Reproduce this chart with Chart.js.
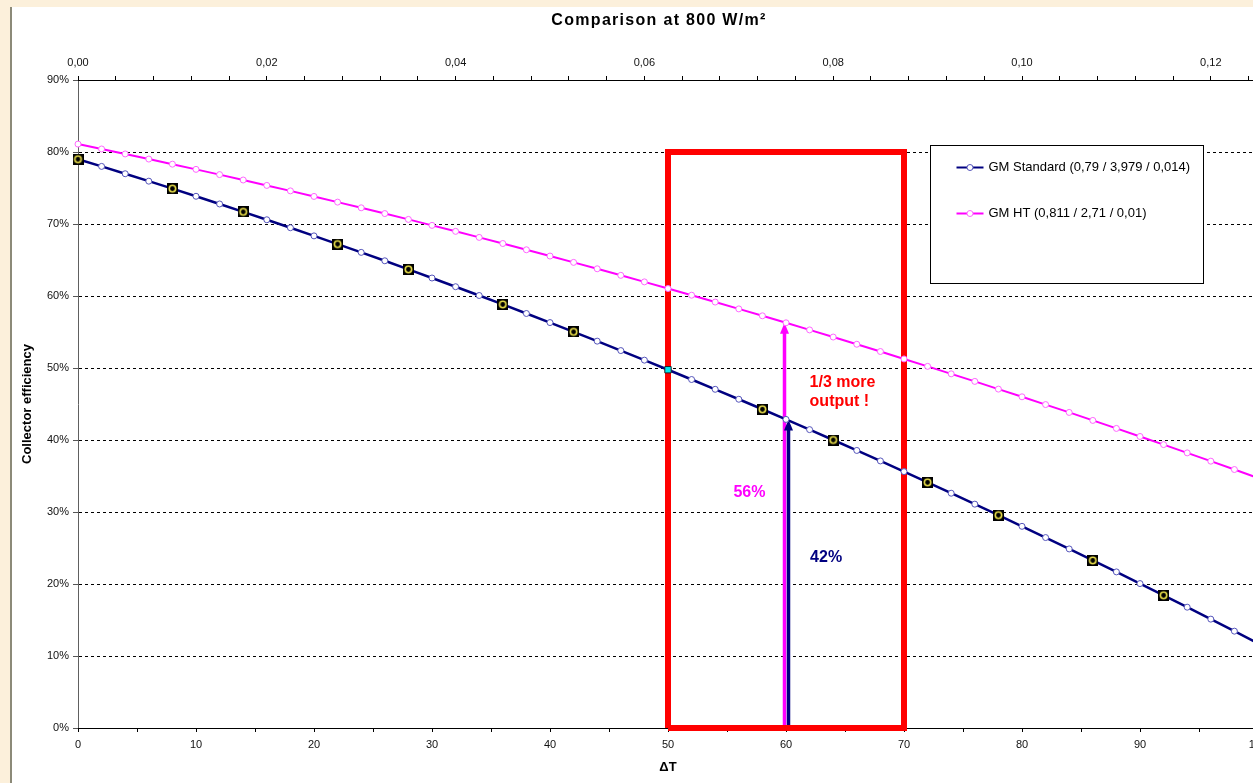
<!DOCTYPE html>
<html lang="en">
<head>
  <meta charset="UTF-8">
  <title>Comparison at 800 W/m²</title>
  <style>
    body {
      margin: 0;
      padding: 0;
      background-color: #fcf0db;
      overflow: hidden;
      width: 1253px;
      height: 783px;
      position: relative;
    }
    .sheet {
      position: absolute;
      left: 10px;
      top: 7px;
      width: 1300px;
      height: 800px;
      background-color: #fff;
      border-left: 2px solid #8c8a78;
    }
    #myChart {
      position: absolute;
      left: 0;
      top: 0;
    }
  </style>
</head>
<body>
  <div class="sheet"></div>
  <canvas id="myChart" width="1310" height="783"></canvas>
  <script src="https://cdn.jsdelivr.net/npm/chart.js"></script>
  <script>
    // values, efficiency in %
    var deltaT = [0, 2, 4, 6, 8, 10, 12, 14, 16, 18, 20, 22, 24, 26, 28, 30, 32, 34, 36, 38, 40,
      42, 44, 46, 48, 50, 52, 54, 56, 58, 60, 62, 64, 66, 68, 70, 72, 74, 76, 78, 80,
      82, 84, 86, 88, 90, 92, 94, 96, 98, 100];
    var gmStandard = [79.00, 78.00, 76.98, 75.95, 74.91, 73.85, 72.78, 71.69, 70.59, 69.48, 68.35,
      67.21, 66.06, 64.89, 63.70, 62.50, 61.29, 60.07, 58.83, 57.57, 56.31,
      55.02, 53.73, 52.42, 51.09, 49.76, 48.40, 47.04, 45.66, 44.27, 42.86,
      41.44, 40.00, 38.55, 37.09, 35.61, 34.12, 32.61, 31.09, 29.56, 28.01,
      26.45, 24.87, 23.28, 21.68, 20.06, 18.43, 16.78, 15.12, 13.45, 11.76];
    var gmHT = [81.10, 80.42, 79.73, 79.02, 78.31, 77.59, 76.86, 76.11, 75.36, 74.60, 73.83,
      73.04, 72.25, 71.45, 70.64, 69.81, 68.98, 68.14, 67.29, 66.42, 65.55,
      64.67, 63.78, 62.87, 61.96, 61.04, 60.11, 59.16, 58.21, 57.25, 56.28,
      55.29, 54.30, 53.30, 52.29, 51.26, 50.23, 49.19, 48.14, 47.07, 46.00,
      44.92, 43.83, 42.72, 41.61, 40.49, 39.36, 38.21, 37.06, 35.90, 34.73];
    var seriesLabels = ['GM Standard (0,79 / 3,979 / 0,014)', 'GM HT (0,811 / 2,71 / 0,01)'];

    var highlightT = [0, 8, 14, 22, 28, 36, 42, 58, 64, 72, 78, 86, 92, 100];
    var markedT = 50;
    var frameX = [50, 50, 70, 70, 50];
    var frameY = [0, 80, 80, 0, 0];
    var arrowT = 60;
    var irradiance = 800;          // top axis = dT / G
    var yTickValues = [0, 10, 20, 30, 40, 50, 60, 70, 80, 90];
    var notes = [
      { text: '1/3 more', x: 62.0, y: 47.4, color: '#ff0000', align: 'left' },
      { text: 'output !', x: 62.0, y: 44.7, color: '#ff0000', align: 'left' },
      { text: '56%', x: 56.9, y: 32.1, color: '#ff00ff', align: 'center' },
      { text: '42%', x: 63.4, y: 23.1, color: '#000080', align: 'center' }
    ];

    var FONT = "'Liberation Sans', Arial, sans-serif";
    Chart.defaults.font.family = FONT;
    Chart.defaults.color = '#000';

    function pts(xs, ys) {
      return xs.map(function (x, i) { return { x: x, y: ys[i] }; });
    }

    function valueAt(series, t) {
      return series[deltaT.indexOf(t)];
    }

    // black square with yellow ring, like the Excel marker
    function makeMarker() {
      var c = document.createElement('canvas');
      c.width = 11; c.height = 11;
      var g = c.getContext('2d');
      g.fillStyle = '#000';
      g.fillRect(0, 0, 11, 11);
      g.strokeStyle = '#e8de4a';
      g.lineWidth = 1.6;
      g.beginPath();
      g.arc(5.5, 5.5, 3.2, 0, Math.PI * 2);
      g.stroke();
      g.fillStyle = '#000';
      g.beginPath();
      g.arc(5.5, 5.5, 1.4, 0, Math.PI * 2);
      g.fill();
      return c;
    }

    var highlightData = highlightT.map(function (t) {
      return { x: t, y: valueAt(gmStandard, t) };
    });

    var extras = {
      id: 'extras',
      beforeDatasetsDraw: function (chart) {
        var ctx = chart.ctx;
        var xs = chart.scales.x, ys = chart.scales.y;
        var px = xs.getPixelForValue(arrowT);
        var base = ys.getPixelForValue(0);
        drawArrow(ctx, px - 1.5, base, ys.getPixelForValue(valueAt(gmHT, arrowT)), '#ff00ff');
        drawArrow(ctx, px + 2.5, base, ys.getPixelForValue(valueAt(gmStandard, arrowT)), '#000080');
      },
      afterDraw: function (chart) {
        var ctx = chart.ctx;
        var ca = chart.chartArea;
        var xs = chart.scales.x, ys = chart.scales.y;

        ctx.save();
        // notes
        ctx.font = 'bold 16px ' + FONT;
        ctx.textBaseline = 'alphabetic';
        notes.forEach(function (n) {
          ctx.fillStyle = n.color;
          ctx.textAlign = n.align;
          ctx.fillText(n.text, xs.getPixelForValue(n.x), ys.getPixelForValue(n.y));
        });

        // title
        ctx.font = 'bold 16px ' + FONT;
        ctx.fillStyle = '#000';
        ctx.textAlign = 'center';
        ctx.textBaseline = 'middle';
        ctx.letterSpacing = '1.3px';
        ctx.fillText('Comparison at 800 W/m²', chart.width / 2 + 4, 21);
        ctx.letterSpacing = '0px';

        // legend box
        var bx = Math.round(ca.right - 328) + 0.5, by = Math.round(ca.top + 65) + 0.5;
        ctx.fillStyle = '#fff';
        ctx.fillRect(bx, by, 273, 138);
        ctx.strokeStyle = '#000';
        ctx.lineWidth = 1;
        ctx.strokeRect(bx, by, 273, 138);
        var colors = [['#000080', '#5555bb'], ['#ff00ff', '#ff66ff']];
        ctx.font = '13px ' + FONT;
        ctx.textAlign = 'left';
        ctx.textBaseline = 'middle';
        seriesLabels.forEach(function (label, i) {
          var ly = by + 22 + i * 46;
          ctx.strokeStyle = colors[i][0];
          ctx.lineWidth = 2;
          ctx.beginPath();
          ctx.moveTo(bx + 26, ly);
          ctx.lineTo(bx + 53, ly);
          ctx.stroke();
          ctx.fillStyle = '#fff';
          ctx.strokeStyle = colors[i][1];
          ctx.lineWidth = 1;
          ctx.beginPath();
          ctx.arc(bx + 39.5, ly, 3, 0, Math.PI * 2);
          ctx.fill();
          ctx.stroke();
          ctx.fillStyle = '#000';
          ctx.fillText(label, bx + 58, ly);
        });
        ctx.restore();
      }
    };

    function drawArrow(ctx, x, yBase, yTip, color) {
      ctx.save();
      ctx.strokeStyle = color;
      ctx.fillStyle = color;
      ctx.lineWidth = 3.5;
      ctx.beginPath();
      ctx.moveTo(x, yBase);
      ctx.lineTo(x, yTip + 8);
      ctx.stroke();
      ctx.beginPath();
      ctx.moveTo(x, yTip);
      ctx.lineTo(x - 4.5, yTip + 11);
      ctx.lineTo(x + 4.5, yTip + 11);
      ctx.closePath();
      ctx.fill();
      ctx.restore();
    }

    var ctx = document.getElementById('myChart').getContext('2d');
    var myChart = new Chart(ctx, {
      type: 'line',
      data: {
        datasets: [{
          label: 'marked',
          data: [{ x: markedT, y: valueAt(gmStandard, markedT) }],
          showLine: false,
          pointStyle: 'rect',
          pointRadius: 4.5,
          backgroundColor: '#00e8f0',
          borderColor: '#222',
          borderWidth: 1,
          clip: false,
          order: 0
        }, {
          label: 'highlight',
          data: highlightData,
          showLine: false,
          pointStyle: makeMarker(),
          clip: false,
          order: 1
        }, {
          label: seriesLabels[0],
          data: pts(deltaT, gmStandard),
          borderColor: '#000080',
          borderWidth: 2.5,
          pointRadius: 3,
          pointBackgroundColor: '#fff',
          pointBorderColor: '#5555bb',
          pointBorderWidth: 1,
          tension: 0,
          clip: false,
          order: 2
        }, {
          label: seriesLabels[1],
          data: pts(deltaT, gmHT),
          borderColor: '#ff00ff',
          borderWidth: 2,
          pointRadius: 3,
          pointBackgroundColor: '#fff',
          pointBorderColor: '#ff66ff',
          pointBorderWidth: 1,
          tension: 0,
          clip: false,
          order: 3
        }, {
          label: 'frame',
          data: pts(frameX, frameY),
          borderColor: '#ff0000',
          borderWidth: 6,
          pointRadius: 0,
          borderJoinStyle: 'miter',
          clip: false,
          order: 10
        }]
      },
      options: {
        responsive: false,
        animation: false,
        devicePixelRatio: 1,
        layout: { padding: { left: 12, top: 0, right: 52, bottom: 0 } },
        plugins: {
          legend: { display: false },
          tooltip: { enabled: false },
          title: { display: false }
        },
        scales: {
          y: {
            min: 0,
            max: 90,
            afterBuildTicks: function (s) {
              s.ticks = yTickValues.map(function (v) { return { value: v }; });
            },
            ticks: {
              callback: function (v) { return v + '%'; },
              font: { size: 11 },
              color: '#111',
              padding: 4
            },
            grid: { color: '#000', tickLength: 5, tickBorderDash: [], tickColor: '#555' },
            border: { dash: [3, 3], color: '#606060', width: 1 },
            title: {
              display: true,
              text: 'Collector efficiency',
              font: { size: 13, weight: 'bold' },
              color: '#000',
              padding: { top: 8, bottom: 8 }
            },
            afterFit: function (s) { s.width = 66; }
          },
          x: {
            type: 'linear',
            position: 'bottom',
            min: 0,
            max: 100,
            ticks: {
              stepSize: 5,
              autoSkip: false,
              maxRotation: 0,
              callback: function (v) { return v % 10 === 0 ? String(v) : ''; },
              font: { size: 11 },
              color: '#111',
              padding: 6
            },
            grid: { drawOnChartArea: false, tickLength: 4, color: '#000' },
            border: { color: '#000', width: 1 },
            title: {
              display: true,
              text: 'ΔT',
              font: { size: 13, weight: 'bold' },
              color: '#000',
              padding: { top: 8, bottom: 8 }
            },
            afterFit: function (s) { s.height = 55; }
          },
          x2: {
            type: 'linear',
            position: 'top',
            min: 0,
            max: 100 / irradiance,
            ticks: {
              stepSize: 0.004,
              includeBounds: false,
              autoSkip: false,
              maxRotation: 0,
              callback: function (v) {
                return Math.round(v * 1000) % 20 === 0 ? v.toFixed(2).replace('.', ',') : '';
              },
              font: { size: 11 },
              color: '#111',
              padding: 6
            },
            grid: { drawOnChartArea: false, tickLength: 4, color: '#000' },
            border: { color: '#000', width: 1 },
            afterFit: function (s) { s.height = 80; }
          }
        }
      },
      plugins: [extras]
    });
  </script>
</body>
</html>
